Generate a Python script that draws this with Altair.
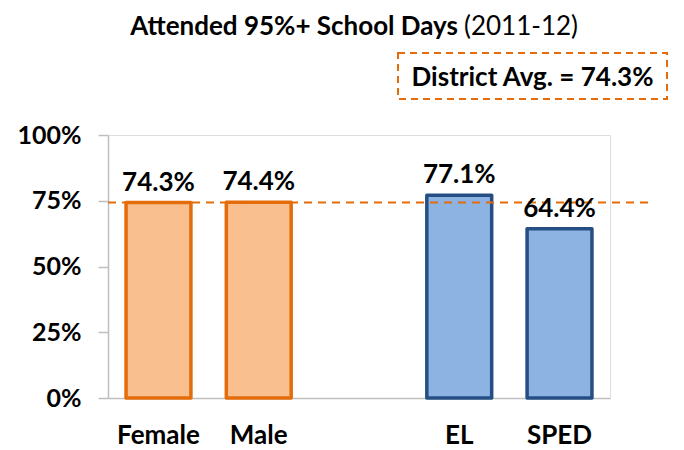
import altair as alt
import pandas as pd

categories = ["Female", "Male", "EL", "SPED"]
values = [74.3, 74.4, 77.1, 64.4]
groups = ["gender", "gender", "program", "program"]
x_domain = ["Female", "Male", " ", "EL", "SPED"]
district_avg = 74.3
y_ticks = [0, 25, 50, 75, 100]

FONT = "Lato"
FS = 26
df = pd.DataFrame({"cat": categories, "val": values, "grp": groups,
                   "label": [f"{v:.1f}%" for v in values]})
avg_df = pd.DataFrame({"avg": [district_avg]})

x = alt.X("cat:N", scale=alt.Scale(domain=x_domain, paddingInner=0.353, paddingOuter=0.18),
          sort=x_domain,
          axis=alt.Axis(title=None, labelAngle=0, ticks=False, domainColor="#BFBFBF",
                        domainWidth=1.5, labelFont=FONT, labelFontSize=FS,
                        labelFontWeight="bold", labelColor="#000000", labelPadding=24))
y_scale = alt.Scale(domain=[0, 100])
y = alt.Y("val:Q", scale=y_scale,
          axis=alt.Axis(title=None, values=y_ticks, grid=False, labelExpr="datum.value + '%'",
                        domainColor="#BFBFBF", domainWidth=1.5, tickColor="#BFBFBF",
                        tickSize=10, tickWidth=1.5, labelFont=FONT, labelFontSize=25,
                        labelFontWeight="bold", labelColor="#000000", labelPadding=17))

color = alt.Color("grp:N", scale=alt.Scale(domain=["gender", "program"],
                                          range=["#F9BF8F", "#8DB3E2"]), legend=None)
stroke = alt.Stroke("grp:N", scale=alt.Scale(domain=["gender", "program"],
                                            range=["#E46C0A", "#254E82"]), legend=None)

bars = alt.Chart(df).mark_bar(strokeWidth=3.5, strokeJoin="round").encode(
    x=x, y=y, color=color, stroke=stroke)

rule = alt.Chart(avg_df).mark_rule(color="#E46C0A", strokeWidth=2, strokeDash=[8, 6]).encode(
    y=alt.Y("avg:Q", scale=y_scale), x=alt.value(0), x2=alt.value(544))

labels = alt.Chart(df).mark_text(font=FONT, fontSize=FS, fontWeight="bold", baseline="bottom",
                                 dy=-7, color="#000000").encode(
    x=alt.X("cat:N", sort=x_domain), y=y, text="label:N")

title_bold = alt.Chart(avg_df).mark_text(font=FONT, fontSize=FS, fontWeight="bold", align="right",
                                         baseline="alphabetic", color="#000000").encode(
    x=alt.value(350), y=alt.value(-100), text=alt.value("Attended 95%+ School Days"))
title_norm = alt.Chart(avg_df).mark_text(font=FONT, fontSize=FS, fontWeight="normal", align="left",
                                         baseline="alphabetic", color="#000000").encode(
    x=alt.value(356), y=alt.value(-100), text=alt.value("(2011-12)"))

box = alt.Chart(avg_df).mark_rect(fill="white", fillOpacity=0, stroke="#E46C0A", strokeWidth=2,
                                  strokeDash=[7, 5]).encode(
    x=alt.value(290), x2=alt.value(559), y=alt.value(-82), y2=alt.value(-36))
box_text = alt.Chart(avg_df).mark_text(font=FONT, fontSize=FS, fontWeight="bold", align="center",
                                       baseline="alphabetic", color="#000000").encode(
    x=alt.value(424.5), y=alt.value(-49), text=alt.value(f"District Avg. = {district_avg}%"))

chart = alt.layer(bars, rule, labels, title_bold, title_norm, box, box_text).properties(
    width=502, height=263,
    autosize=alt.AutoSizeParams(type="none"),
    padding={"left": 100, "top": 127, "right": 66, "bottom": 50},
).configure_view(stroke=None).configure(background="white")

chart.save("out.html", embed_options={"renderer": "svg", "actions": False})
